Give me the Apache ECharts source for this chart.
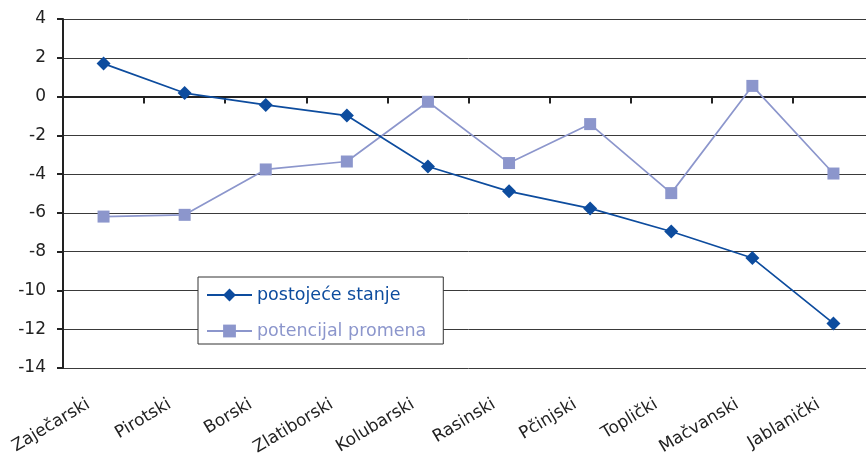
<!DOCTYPE html>
<html><head><meta charset="utf-8">
<script src="https://cdn.jsdelivr.net/npm/echarts@6/dist/echarts.min.js"></script>
<style>html,body{margin:0;padding:0;background:#fff;overflow:hidden;width:866px;height:458px}#c{width:882px;height:458px}</style>
</head><body><div id="c"></div>
<script>
var categories = ['Zaječarski','Pirotski','Borski','Zlatiborski','Kolubarski','Rasinski','Pčinjski','Toplički','Mačvanski','Jablanički'];
var postojece = [1.70, 0.18, -0.43, -0.98, -3.61, -4.89, -5.77, -6.96, -8.33, -11.7];
var potencijal = [-6.19, -6.10, -3.76, -3.35, -0.27, -3.43, -1.42, -4.98, 0.55, -3.97];
var seriesNames = ['postojeće stanje', 'potencijal promena'];
var colors = ['#0d4c9e', '#8c96cc'];
var fontFam = '"DejaVu Sans", Verdana, sans-serif';

var chart = echarts.init(document.getElementById('c'), null, {renderer:'canvas'});
chart.setOption({
  animation: false,
  grid: [
    {left: 63, width: 811, top: 19, bottom: 90},
    {left: 48, width: 811, top: 19, bottom: 90}
  ],
  xAxis: [
    {type:'category', gridIndex:0, data: categories, boundaryGap:true,
     axisLine:{onZero:true, lineStyle:{color:'#222', width:2}},
     axisTick:{show:true, inside:false, length:7, lineStyle:{color:'#222', width:2}},
     axisLabel:{show:false}, splitLine:{show:false}},
    {type:'category', gridIndex:1, data: categories, position:'bottom',
     axisLine:{show:false}, axisTick:{show:false}, splitLine:{show:false},
     axisLabel:{show:true, rotate:31, margin:38, fontSize:17, color:'#222', fontFamily:fontFam, interval:0}}
  ],
  yAxis: [
    {type:'value', gridIndex:0, min:-14, max:4, interval:2,
     axisLine:{show:true, lineStyle:{color:'#222', width:2}},
     axisTick:{show:true, length:6, lineStyle:{color:'#222', width:2}},
     axisLabel:{fontSize:17, color:'#222', fontFamily:fontFam, margin:17},
     splitLine:{show:true, lineStyle:{color:'#3a3a3a', width:1}}},
    {type:'value', gridIndex:1, min:-14, max:4, interval:2, show:false}
  ],
  legend: {
    orient:'vertical', left:198, top:277,
    backgroundColor:'#fff', borderColor:'#333', borderWidth:1,
    padding:[9, 17, 4, 8], itemWidth:45, itemHeight:16, itemGap:18,
    textStyle:{fontSize:17.5, fontFamily:fontFam},
    data:[
      {name: seriesNames[0], textStyle:{color: colors[0]}},
      {name: seriesNames[1], textStyle:{color: colors[1]}}
    ]
  },
  series: [
    {name: seriesNames[0], type:'line', xAxisIndex:0, yAxisIndex:0, data: postojece,
     symbol:'diamond', symbolSize:14, color: colors[0],
     lineStyle:{width:1.7, color: colors[0]}, itemStyle:{color: colors[0]}, z:3},
    {name: seriesNames[1], type:'line', xAxisIndex:0, yAxisIndex:0, data: potencijal,
     symbol:'rect', symbolSize:12, color: colors[1],
     lineStyle:{width:1.7, color: colors[1]}, itemStyle:{color: colors[1]}, z:2}
  ]
});
</script></body></html>
